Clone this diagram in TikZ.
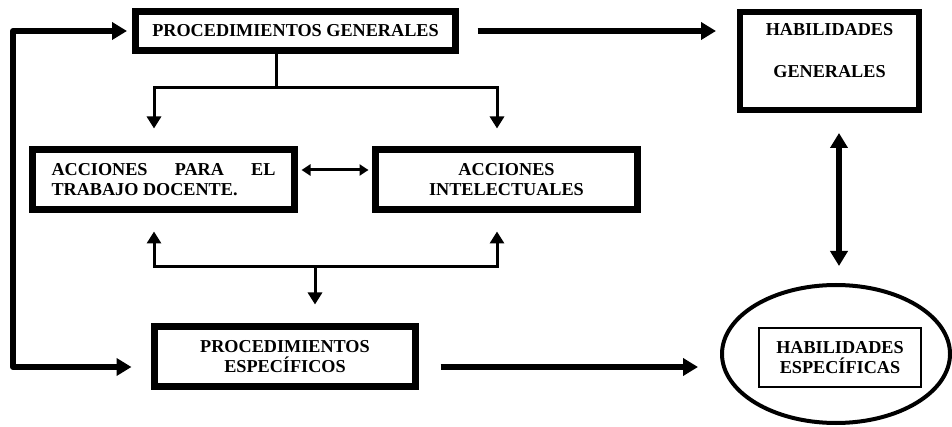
\documentclass[tikz,border=0pt]{standalone}
\usepackage{fontspec}
\setmainfont{Liberation Serif}
\usetikzlibrary{arrows.meta,calc,shapes.geometric}

\tikzset{
  bigtip/.tip={Triangle[length=15pt,width=17pt]},
  smalltip/.tip={Triangle[length=12pt,width=14pt]},
  tinytip/.tip={Triangle[length=9pt,width=11pt]},
  lbl/.style={font=\bfseries\fontsize{18.2}{20}\selectfont, align=center},
  heavybox/.style={draw, line width=7pt, inner sep=0pt, lbl},
  heavy/.style={line width=6pt, line join=round},
  conn/.style={line width=3pt},
}

\begin{document}
\begin{tikzpicture}[x=1pt,y=-1pt]
\useasboundingbox (0,0) rectangle (952,427);

% boxes
\node[heavybox, minimum width=320pt, minimum height=39pt] (PG) at (295.5,31) {PROCEDIMIENTOS GENERALES};
\node[heavybox, minimum width=262pt, minimum height=60pt] (AT) at (163.5,179.5)
  {\makebox[224pt][s]{ACCIONES\hfill PARA\hfill EL}\\\makebox[224pt][l]{TRABAJO DOCENTE.}};
\node[heavybox, minimum width=262pt, minimum height=60pt] (AI) at (506.5,179.5) {ACCIONES\\INTELECTUALES};
\node[heavybox, minimum width=261pt, minimum height=60pt] (PE) at (285,356.5) {PROCEDIMIENTOS\\ESPECÍFICOS};
\node[draw, line width=6pt, inner sep=0pt, lbl, font=\bfseries\fontsize{18.2}{21}\selectfont,
      minimum width=179pt, minimum height=98pt] (HG) at (829.5,61)
  {HABILIDADES\\\mbox{}\\GENERALES\\\mbox{}};
\node[draw, ellipse, line width=4pt, inner sep=0pt, minimum width=228pt, minimum height=138pt] (EL) at (836,354) {};
\node[draw, line width=2pt, inner sep=0pt, lbl, minimum width=162pt, minimum height=59pt] (HE) at (840,357.5)
  {HABILIDADES\\ESPECÍFICAS};

% feedback loop on the left
\coordinate (fbTop) at (13,31);
\coordinate (fbBot) at (13,367);
\draw[heavy, bigtip-bigtip] ($(PG.west)+(-5,0)$) -- (fbTop) -- (fbBot) -- ($(PE.west|-fbBot)+(-19.5,0)$);

% heavy arrows to the right column
\draw[heavy, -bigtip] ($(PG.east)+(18.5,0)$) -- ($(PG.east -| HG.west)+(-21,0)$);
\draw[heavy, -bigtip] ($(PE.east)+(21.5,10.5)$) -- ($(PE.east -| EL.west)+(-22,10.5)$);
\draw[heavy, bigtip-bigtip] ($(HG.south)+(9.5,20)$) -- ($(EL.north)+(3,-17)$);

% branch from general procedures
\coordinate (topBus) at (276,88);
\draw[conn] (PG.south -| topBus) -- (topBus);
\draw[conn, -smalltip] (topBus) -| ($(AT.north)+(-9.5,-17.5)$);
\draw[conn, -smalltip] (topBus) -| ($(AI.north)+(-9.5,-17.5)$);

% link between the two kinds of actions
\draw[conn, tinytip-tinytip] ($(AT.east)+(3.5,-9.5)$) -- ($(AI.west)+(-3.5,-9.5)$);

% branch to specific procedures
\coordinate (botBus) at (315,267);
\draw[conn, smalltip-] ($(AT.south)+(-9.5,18.5)$) |- (botBus);
\draw[conn, smalltip-] ($(AI.south)+(-9.5,18.5)$) |- (botBus);
\draw[conn, -smalltip] (botBus) -- ($(PE.north -| botBus)+(0,-18.5)$);
\end{tikzpicture}
\end{document}
